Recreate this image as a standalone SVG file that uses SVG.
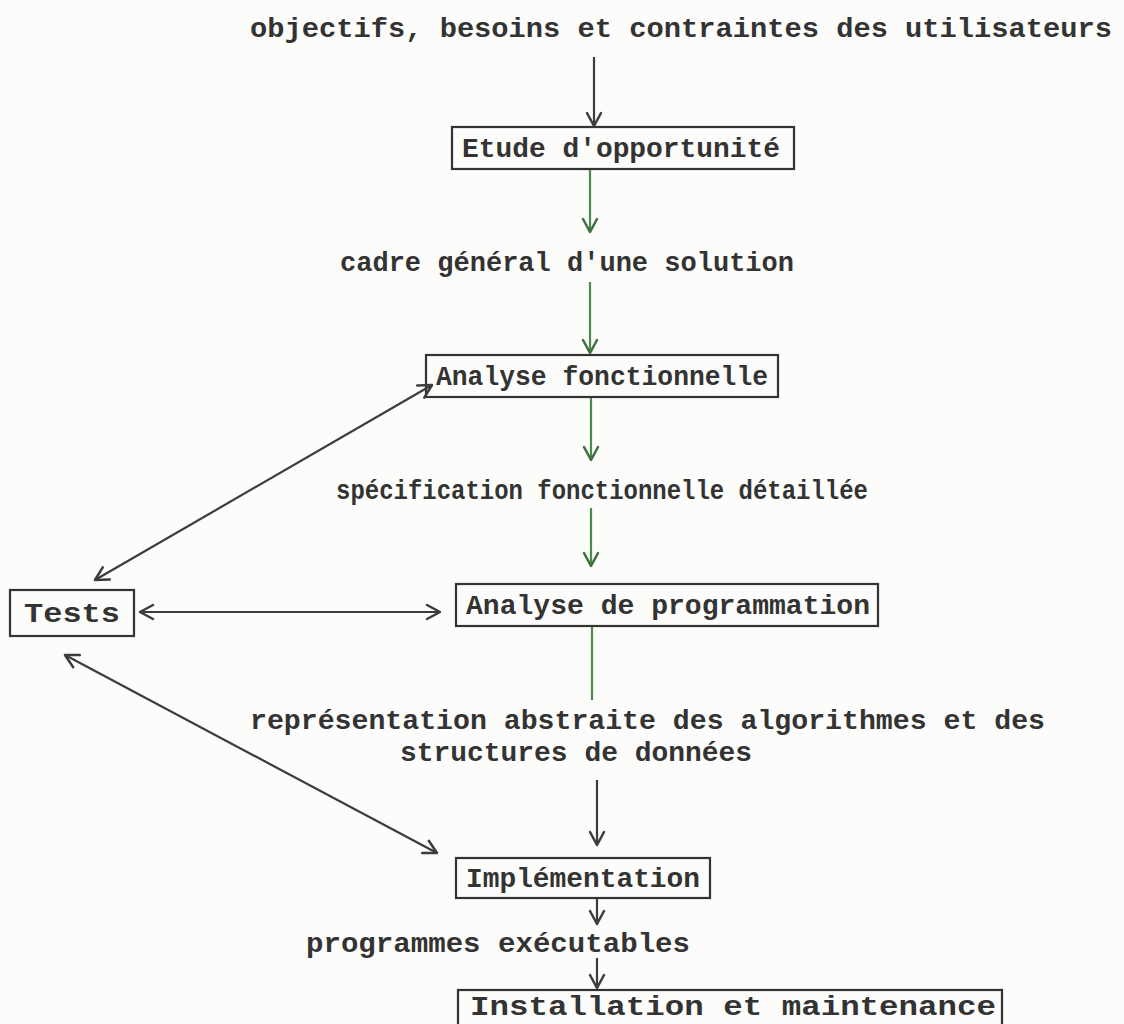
<svg xmlns="http://www.w3.org/2000/svg" width="1124" height="1024" viewBox="0 0 1124 1024">
<defs>
<style>
.t{font-family:"Liberation Mono","DejaVu Sans Mono",monospace;font-size:28px;font-weight:bold;fill:#333}
.box{fill:none;stroke:#333;stroke-width:2.2}
.dk{stroke:#3c3c3c;stroke-width:2.2;fill:none}
.gr{stroke:#4e8a4e;stroke-width:2.2;fill:none}
</style>
<marker id="ad" viewBox="-16 -10 18 20" refX="0" refY="0" markerWidth="18" markerHeight="20" markerUnits="userSpaceOnUse" orient="auto-start-reverse">
<path d="M-13,-7 L0,0 L-13,7" fill="none" stroke="#3c3c3c" stroke-width="2.5" stroke-linecap="round" stroke-linejoin="round"/>
</marker>
<marker id="ag" viewBox="-16 -10 18 20" refX="0" refY="0" markerWidth="18" markerHeight="20" markerUnits="userSpaceOnUse" orient="auto-start-reverse">
<path d="M-13,-7 L0,0 L-13,7" fill="none" stroke="#3f6e3f" stroke-width="2.5" stroke-linecap="round" stroke-linejoin="round"/>
</marker>
</defs>
<rect width="1124" height="1024" fill="#fcfcfa"/>
<g id="labels">
<text class="t" x="250" y="37" textLength="862" lengthAdjust="spacingAndGlyphs">objectifs, besoins et contraintes des utilisateurs</text>
<text class="t" x="340" y="271" textLength="454" lengthAdjust="spacingAndGlyphs">cadre général d'une solution</text>
<text class="t" x="336" y="499" textLength="532" lengthAdjust="spacingAndGlyphs">spécification fonctionnelle détaillée</text>
<text class="t" x="250" y="729" textLength="795" lengthAdjust="spacingAndGlyphs">représentation abstraite des algorithmes et des</text>
<text class="t" x="400" y="761" textLength="352" lengthAdjust="spacingAndGlyphs">structures de données</text>
<text class="t" x="306" y="952" textLength="384" lengthAdjust="spacingAndGlyphs">programmes exécutables</text>
</g>
<g id="n-etude">
<rect class="box" x="452" y="127" width="342" height="42"/>
<text class="t" x="462" y="157" textLength="318" lengthAdjust="spacingAndGlyphs">Etude d'opportunité</text>
</g>
<g id="n-af">
<rect class="box" x="426" y="355" width="352" height="42"/>
<text class="t" x="436" y="385" textLength="332" lengthAdjust="spacingAndGlyphs">Analyse fonctionnelle</text>
</g>
<g id="n-ap">
<rect class="box" x="456" y="584" width="422" height="42"/>
<text class="t" x="466" y="614" textLength="404" lengthAdjust="spacingAndGlyphs">Analyse de programmation</text>
</g>
<g id="n-tests">
<rect class="box" x="10" y="590" width="124" height="46"/>
<text class="t" x="24" y="622" textLength="96" lengthAdjust="spacingAndGlyphs">Tests</text>
</g>
<g id="n-impl">
<rect class="box" x="456" y="858" width="254" height="40"/>
<text class="t" x="466" y="887" textLength="234" lengthAdjust="spacingAndGlyphs">Implémentation</text>
</g>
<g id="n-inst">
<rect class="box" x="458" y="990" width="544" height="50"/>
<text class="t" x="470" y="1015" textLength="526" lengthAdjust="spacingAndGlyphs">Installation et maintenance</text>
</g>
<g id="connectors">
<line class="dk" x1="594" y1="57" x2="594" y2="126" marker-end="url(#ad)"/>
<line class="gr" x1="590" y1="170" x2="590" y2="232" marker-end="url(#ag)"/>
<line class="gr" x1="590" y1="282" x2="590" y2="353" marker-end="url(#ag)"/>
<line class="gr" x1="591" y1="398" x2="591" y2="460" marker-end="url(#ag)"/>
<line class="gr" x1="591" y1="508" x2="591" y2="566" marker-end="url(#ag)"/>
<line class="gr" x1="592" y1="627" x2="592" y2="700"/>
<line class="dk" x1="597" y1="780" x2="597" y2="845" marker-end="url(#ad)"/>
<line class="dk" x1="597" y1="899" x2="597" y2="924" marker-end="url(#ad)"/>
<line class="dk" x1="597" y1="958" x2="597" y2="988" marker-end="url(#ad)"/>
<line class="dk" x1="95" y1="580" x2="432" y2="385" marker-start="url(#ad)" marker-end="url(#ad)"/>
<line class="dk" x1="140" y1="612" x2="440" y2="612" marker-start="url(#ad)" marker-end="url(#ad)"/>
<line class="dk" x1="65" y1="655" x2="437" y2="853" marker-start="url(#ad)" marker-end="url(#ad)"/>
</g>
</svg>
